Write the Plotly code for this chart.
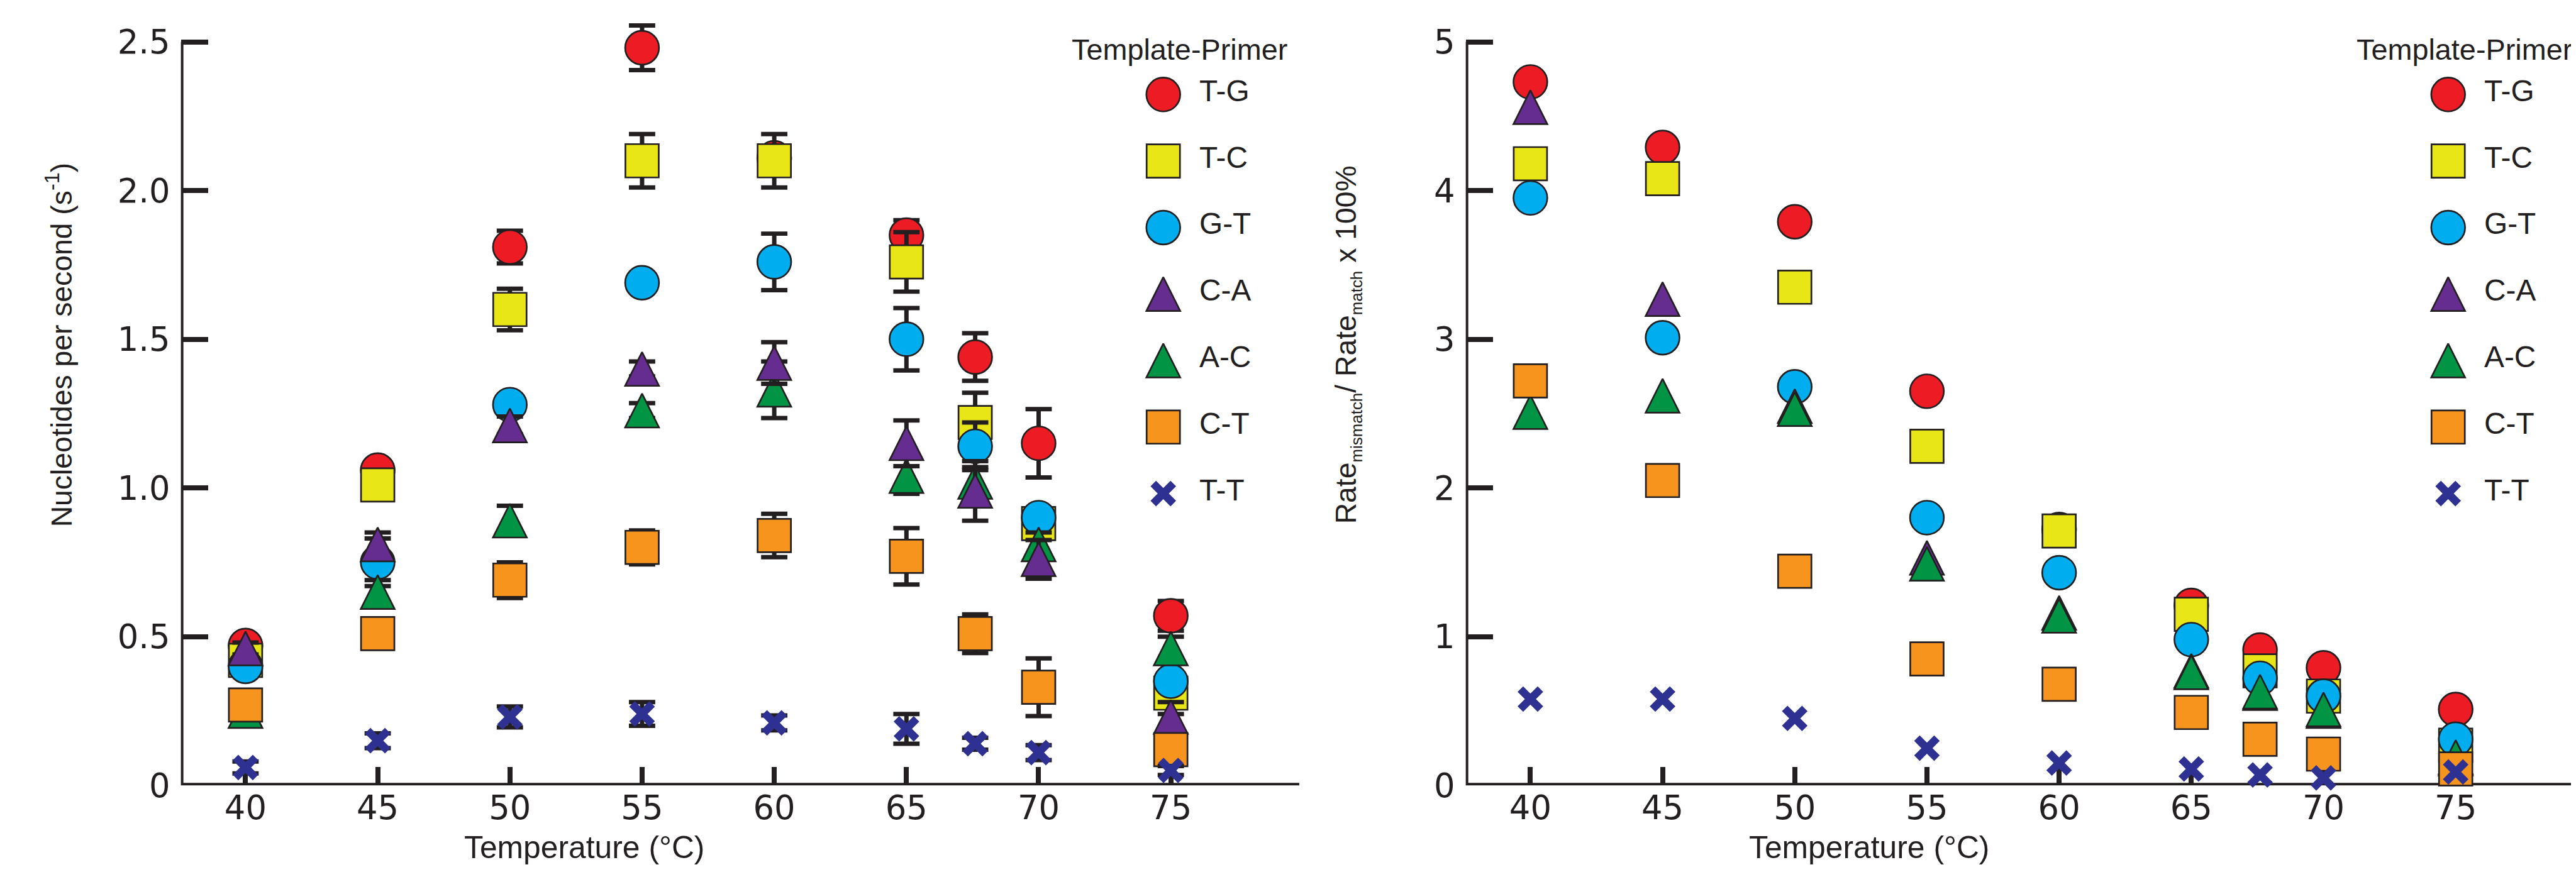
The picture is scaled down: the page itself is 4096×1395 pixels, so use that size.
import plotly.graph_objects as go

S = 0.996                      # output / reference scale
REF_W, REF_H = 4110, 1400      # reference canvas (px)
INK = "#231F20"

# ---------------- data ----------------
temps = [40, 45, 50, 55, 60, 65, 67.6, 70, 75]
x_ticks = [40, 45, 50, 55, 60, 65, 70, 75]
x_tick_text = ["40", "45", "50", "55", "60", "65", "70", "75"]
rate_ticks = [0, 0.5, 1.0, 1.5, 2.0, 2.5]
rate_tick_text = ["0", "0.5", "1.0", "1.5", "2.0", "2.5"]
ratio_ticks = [0, 1, 2, 3, 4, 5]
ratio_tick_text = ["0", "1", "2", "3", "4", "5"]

pairs = ["T-G", "T-C", "G-T", "C-A", "A-C", "C-T", "T-T"]

rate_TG = [0.47, 1.06, 1.81, 2.48, 2.11, 1.85, 1.44, 1.15, 0.57]
rate_TC = [0.42, 1.01, 1.60, 2.10, 2.10, 1.76, 1.22, 0.88, 0.31]
rate_GT = [0.40, 0.75, 1.28, 1.69, 1.76, 1.50, 1.14, 0.90, 0.35]
rate_CA = [0.46, 0.81, 1.21, 1.40, 1.42, 1.15, 0.99, 0.76, 0.23]
rate_AC = [0.25, 0.65, 0.89, 1.26, 1.33, 1.04, 1.02, 0.81, 0.46]
rate_CT = [0.27, 0.51, 0.69, 0.80, 0.84, 0.77, 0.51, 0.33, 0.12]
rate_TT = [0.06, 0.15, 0.23, 0.24, 0.21, 0.19, 0.14, 0.11, 0.05]

err_TG = [0.03, 0.03, 0.055, 0.075, 0.04, 0.05, 0.08, 0.115, 0.05]
err_TC = [0.02, 0.03, 0.07, 0.09, 0.09, 0.10, 0.10, 0.05, 0.07]
err_GT = [0.03, 0.08, 0.03, 0.03, 0.095, 0.105, 0.08, 0.03, 0.03]
err_CA = [0.02, 0.04, 0.03, 0.025, 0.07, 0.077, 0.10, 0.065, 0.05]
err_AC = [0.02, 0.04, 0.05, 0.025, 0.095, 0.06, 0.05, 0.04, 0.04]
err_CT = [0.02, 0.03, 0.06, 0.057, 0.073, 0.095, 0.065, 0.097, 0.04]
err_TT = [0.02, 0.025, 0.035, 0.04, 0.025, 0.05, 0.02, 0.025, 0.015]

ratio_TG = [4.73, 4.29, 3.79, 2.65, 1.72, 1.21, 0.91, 0.79, 0.51]
ratio_TC = [4.18, 4.08, 3.35, 2.28, 1.71, 1.15, 0.77, 0.60, 0.27]
ratio_GT = [3.95, 3.01, 2.68, 1.80, 1.43, 0.98, 0.72, 0.60, 0.31]
ratio_CA = [4.56, 3.27, 2.55, 1.53, 1.16, 0.77, 0.62, 0.50, 0.18]
ratio_AC = [2.51, 2.62, 2.53, 1.49, 1.14, 0.76, 0.63, 0.51, 0.19]
ratio_CT = [2.72, 2.05, 1.44, 0.85, 0.68, 0.49, 0.31, 0.21, 0.11]
ratio_TT = [0.58, 0.58, 0.45, 0.25, 0.15, 0.11, 0.07, 0.05, 0.09]

rates = {"T-G": rate_TG, "T-C": rate_TC, "G-T": rate_GT, "C-A": rate_CA,
         "A-C": rate_AC, "C-T": rate_CT, "T-T": rate_TT}
errs = {"T-G": err_TG, "T-C": err_TC, "G-T": err_GT, "C-A": err_CA,
        "A-C": err_AC, "C-T": err_CT, "T-T": err_TT}
ratios = {"T-G": ratio_TG, "T-C": ratio_TC, "G-T": ratio_GT, "C-A": ratio_CA,
          "A-C": ratio_AC, "C-T": ratio_CT, "T-T": ratio_TT}

colors = {"T-G": "#ED1C24", "T-C": "#E8E617", "G-T": "#00AEEF", "C-A": "#662D91",
          "A-C": "#009444", "C-T": "#F7941D", "T-T": "#2E3192"}

left_order = ["T-G", "T-C", "G-T", "A-C", "C-A", "C-T", "T-T"]
right_order = ["T-G", "T-C", "G-T", "C-A", "A-C", "C-T", "T-T"]

# ---------------- geometry (reference px) ----------------
def fx(px):
    return px / REF_W

def fy(py):
    return 1 - py / REF_H

PX_PER_DEG = 42.18
X0_LEFT = 280.6            # y-axis line of left panel
X0_RIGHT = 2330.6          # y-axis line of right panel
X40_LEFT = 383.7
Y_ZERO = 1273.0
RATE_UNIT = 485.2          # px per 1 s^-1
RATIO_UNIT = 242.6         # px per 1 %

xmin = 40 - (X40_LEFT - X0_LEFT) / PX_PER_DEG
xmax_left = xmin + (2065 - X0_LEFT) / PX_PER_DEG
xmax_right = xmin + (REF_W - X0_RIGHT) / PX_PER_DEG
rate_top = Y_ZERO / RATE_UNIT
ratio_top = Y_ZERO / RATIO_UNIT

MS = 54 * S


def marker_for(name):
    c = colors[name]
    if name in ("T-G", "G-T"):
        return dict(symbol="circle", size=MS, color=c, line=dict(color=INK, width=2.7 * S))
    if name in ("T-C", "C-T"):
        return dict(symbol="square", size=MS * 0.985, color=c, line=dict(color=INK, width=2.7 * S))
    if name in ("C-A", "A-C"):
        # isosceles triangle (width = height = size) centred on the point
        return dict(symbol="arrow-down", angle=180, standoff=MS / 2, size=MS, color=c,
                    line=dict(color=INK, width=2.7 * S))
    return dict(symbol="x-thin", size=32 * S, color=c, line=dict(color=c, width=12.5 * S))


fig = go.Figure()

# left panel: rate with error bars
for name in left_order:
    fig.add_trace(go.Scatter(
        x=temps, y=rates[name], mode="markers", name=name, showlegend=False,
        cliponaxis=False, marker=marker_for(name),
        error_y=dict(type="data", array=errs[name], visible=True, color=INK,
                     thickness=7 * S, width=21 * S),
        xaxis="x", yaxis="y"))

# right panel: relative rate
for name in right_order:
    fig.add_trace(go.Scatter(
        x=temps, y=ratios[name], mode="markers", name=name, showlegend=False,
        cliponaxis=False, marker=marker_for(name), xaxis="x2", yaxis="y2"))

# legends (one per panel) drawn on hidden helper axes
for xa, ya in (("x3", "y3"), ("x4", "y4")):
    for i, name in enumerate(pairs):
        fig.add_trace(go.Scatter(
            x=[0], y=[i], mode="markers", name=name, showlegend=False,
            cliponaxis=False, marker=marker_for(name), hoverinfo="skip",
            xaxis=xa, yaxis=ya))

tick_font = dict(family="DejaVu Sans", size=53 * S, color=INK)


def xaxis_def(domain, rng):
    return dict(domain=domain, range=rng, tickmode="array", tickvals=x_ticks,
                ticktext=x_tick_text, ticks="inside", ticklen=29 * S, tickwidth=8 * S,
                tickcolor=INK, showline=False, showgrid=False, zeroline=False,
                tickfont=tick_font, layer="below traces", fixedrange=True)


def yaxis_def(domain, rng, tv, tt, anchor):
    return dict(domain=domain, range=rng, tickmode="array", tickvals=tv, ticktext=tt,
                ticks="inside", ticklen=44 * S, tickwidth=8 * S, tickcolor=INK,
                showline=False, showgrid=False, zeroline=False, tickfont=tick_font,
                ticklabelstandoff=16,
                layer="below traces", anchor=anchor, fixedrange=True)


y_dom = [fy(Y_ZERO), 1.0]
leg_y_dom = [fy(797 + 54.25), fy(146 - 54.25)]

fig.update_layout(
    width=4096, height=1395, autosize=False,
    margin=dict(l=0, r=0, t=0, b=0, pad=0),
    paper_bgcolor="white", plot_bgcolor="rgba(0,0,0,0)",
    showlegend=False,
    xaxis=dict(**xaxis_def([fx(X0_LEFT), fx(2065)], [xmin, xmax_left]), anchor="y"),
    yaxis=yaxis_def(y_dom, [0, rate_top], rate_ticks, rate_tick_text, "x"),
    xaxis2=dict(**xaxis_def([fx(X0_RIGHT), 1.0], [xmin, xmax_right]), anchor="y2"),
    yaxis2=yaxis_def(y_dom, [0, ratio_top], ratio_ticks, ratio_tick_text, "x2"),
    xaxis3=dict(domain=[fx(1848), fx(2098)], range=[0, 250], visible=False, anchor="y3",
                fixedrange=True),
    yaxis3=dict(domain=leg_y_dom, range=[6.5, -0.5], visible=False, anchor="x3",
                fixedrange=True),
    xaxis4=dict(domain=[fx(3898), 1.0], range=[0, REF_W - 3898], visible=False,
                anchor="y4", fixedrange=True),
    yaxis4=dict(domain=leg_y_dom, range=[6.5, -0.5], visible=False, anchor="x4",
                fixedrange=True),
)

# axis lines (L-shaped, y line stops at its top tick)
for xr, yr, ytop in (("x", "y", rate_ticks[-1]), ("x2", "y2", ratio_ticks[-1])):
    xend = xmax_left if xr == "x" else xmax_right
    fig.add_shape(type="path", xref=xr, yref=yr,
                  path=f"M {xmin},{ytop} L {xmin},0 L {xend},0",
                  line=dict(color=INK, width=8 * S), layer="below")

annotations = []
text_font = "Liberation Sans, Arial, sans-serif"

# axis titles
for dx in (0, 2050):
    annotations.append(dict(
        text="Temperature (°C)", xref="paper", yref="paper",
        x=fx(924.5 + dx), y=fy(1374), xanchor="center", yanchor="middle",
        showarrow=False, font=dict(family=text_font, size=50 * S, color=INK)))

annotations.append(dict(
    text="Nucleotides per second (s<sup>-1</sup>)", xref="paper", yref="paper",
    x=fx(86), y=fy(554.5), xanchor="center", yanchor="middle", textangle=-90,
    showarrow=False, font=dict(family=text_font, size=46.5 * S, color=INK)))

sub = 26 * S
annotations.append(dict(
    text=(f"Rate<sub><span style='font-size:{sub:.1f}px'>mismatch</span></sub>/ "
          f"Rate<sub><span style='font-size:{sub:.1f}px'>match</span></sub> x 100%"),
    xref="paper", yref="paper",
    x=fx(2142), y=fy(554.5), xanchor="center", yanchor="middle", textangle=-90,
    showarrow=False, font=dict(family=text_font, size=46.5 * S, color=INK)))

# legend titles and labels
for dx, xa, ya in ((0, "x3", "y3"), (2050, "x4", "y4")):
    annotations.append(dict(
        text="Template-Primer", xref="paper", yref="paper",
        x=fx(1700 + dx), y=fy(72.5), xanchor="left", yanchor="middle",
        showarrow=False, font=dict(family=text_font, size=47 * S, color=INK)))
    for i, name in enumerate(pairs):
        annotations.append(dict(
            text=name, xref="paper", yref=ya,
            x=fx(1903 + dx), y=i, yshift=6 * S, xanchor="left", yanchor="middle",
            showarrow=False, font=dict(family=text_font, size=48 * S, color=INK)))

fig.update_layout(annotations=annotations)

fig.write_html("out.html")
